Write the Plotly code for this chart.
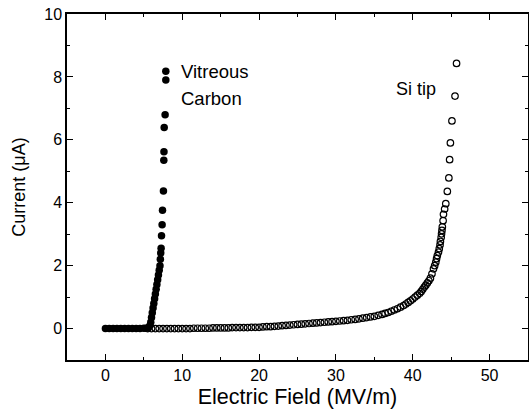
import plotly.graph_objects as go

# Vitreous Carbon (filled circles)
carbon_x = [0.0, 0.5, 1.0, 1.5, 2.0, 2.5, 3.0, 3.5, 4.0, 4.5, 5.0, 5.3, 5.6,
            5.8, 5.9, 6.0, 6.1, 6.2, 6.3, 6.4, 6.5, 6.6, 6.7, 6.8, 6.9, 7.0, 7.1,
            7.15, 7.2, 7.25, 7.3, 7.38, 7.43, 7.55, 7.6, 7.62, 7.65, 7.77, 7.86, 7.86]
carbon_y = [0.0, 0.0, 0.0, 0.0, 0.0, 0.0, 0.0, 0.0, 0.0, 0.0, 0.01, 0.01, 0.03,
            0.1, 0.2, 0.35, 0.5, 0.65, 0.8, 0.95, 1.1, 1.25, 1.4, 1.55, 1.7, 1.85, 2.0,
            2.2, 2.4, 2.55, 2.95, 3.3, 3.76, 4.37, 5.35, 5.62, 6.39, 6.8, 7.9, 8.18]

# Si tip (open circles)
si_x = [5.5, 6.0, 6.5, 7.0, 7.5, 8.0, 8.5, 9.0, 9.5, 10.0, 10.5, 11.0, 11.5, 12.0,
        12.5, 13.0, 13.5, 14.0, 14.5, 15.0, 15.5, 16.0, 16.5, 17.0, 17.5, 18.0, 18.5,
        19.0, 19.5, 20.0, 20.5, 21.0, 21.5, 22.0, 22.5, 23.0, 23.5, 24.0, 24.5, 25.0,
        25.5, 26.0, 26.5, 27.0, 27.5, 28.0, 28.5, 29.0, 29.5, 30.0, 30.5, 31.0, 31.5,
        32.0, 32.5, 33.0, 33.5, 34.0, 34.5, 35.0, 35.5, 36.0, 36.4, 36.8, 37.2, 37.6,
        38.0, 38.4, 38.8, 39.1, 39.4, 39.7, 40.0, 40.3, 40.6, 40.9, 41.1, 41.3, 41.5,
        41.7, 41.9, 42.1, 42.3, 42.5, 42.7, 42.85, 43.0, 43.1, 43.2, 43.35, 43.45,
        43.55, 43.6, 43.7, 43.75, 43.8, 43.85, 43.95, 44.0, 44.15, 44.3, 44.5, 44.7,
        44.8, 44.9, 45.1, 45.5, 45.7]
si_y = [0.0, 0.0, 0.0, 0.0, 0.0, 0.0, 0.0, 0.0, 0.0, 0.0, 0.0, 0.0, 0.01, 0.01,
        0.01, 0.01, 0.01, 0.02, 0.02, 0.02, 0.02, 0.02, 0.03, 0.03, 0.03, 0.03, 0.03,
        0.04, 0.04, 0.04, 0.05, 0.06, 0.06, 0.07, 0.08, 0.09, 0.1, 0.11, 0.12, 0.13,
        0.14, 0.15, 0.16, 0.17, 0.18, 0.19, 0.2, 0.21, 0.22, 0.23, 0.24, 0.25, 0.26,
        0.28, 0.29, 0.31, 0.33, 0.35, 0.37, 0.39, 0.42, 0.45, 0.48, 0.51, 0.55, 0.59,
        0.63, 0.68, 0.73, 0.78, 0.83, 0.88, 0.94, 1.0, 1.06, 1.12, 1.18, 1.25, 1.32,
        1.38, 1.45, 1.52, 1.6, 1.74, 1.9, 2.0, 2.11, 2.22, 2.32, 2.43, 2.54,
        2.66, 2.77, 2.9, 3.01, 3.12, 3.23, 3.43, 3.63, 3.8, 3.97, 4.36, 4.79,
        5.37, 5.9, 6.6, 7.39, 8.43]

x_ticks = [0, 10, 20, 30, 40, 50]
y_ticks = [0, 2, 4, 6, 8, 10]

font_family = "Liberation Sans, Arial, sans-serif"

fig = go.Figure()
fig.add_trace(go.Scatter(
    x=si_x, y=si_y, mode="markers",
    marker=dict(symbol="circle-open", size=6.5, color="black", line=dict(width=1.2, color="black")),
    showlegend=False,
))
fig.add_trace(go.Scatter(
    x=carbon_x, y=carbon_y, mode="markers",
    marker=dict(symbol="circle", size=7.5, color="black"),
    showlegend=False,
))

fig.add_annotation(x=9.6, y=8.18, text="Vitreous", showarrow=False, xanchor="left",
                   yanchor="middle", font=dict(size=18.5, color="black", family=font_family))
fig.add_annotation(x=9.6, y=7.3, text="Carbon", showarrow=False, xanchor="left",
                   yanchor="middle", font=dict(size=18.5, color="black", family=font_family))
fig.add_annotation(x=37.6, y=7.6, text="Si tip", showarrow=False, xanchor="left",
                   yanchor="middle", font=dict(size=18, color="black", family=font_family))

axis_common = dict(
    showline=True, linecolor="black", linewidth=1.5, mirror="ticks",
    ticks="inside", ticklen=6, tickwidth=1.3, tickcolor="black",
    showgrid=False, zeroline=False, automargin=False,
    tickfont=dict(size=16, color="black", family=font_family),
)

fig.update_xaxes(
    range=[-5, 55], tickvals=x_ticks, ticktext=[str(v) for v in x_ticks],
    minor=dict(dtick=5, tick0=0, ticks="inside", ticklen=3, tickwidth=1, tickcolor="black"),
    title=dict(text="Electric Field (MV/m)", font=dict(size=21.5, color="black", family=font_family), standoff=6),
    **axis_common,
)
fig.update_yaxes(
    range=[-1, 10], tickvals=y_ticks, ticktext=[str(v) for v in y_ticks],
    minor=dict(dtick=1, tick0=0, ticks="inside", ticklen=3, tickwidth=1, tickcolor="black"),
    title=dict(text="Current (μA)", font=dict(size=18, color="black", family=font_family), standoff=14),
    **axis_common,
)

fig.update_layout(
    width=529, height=420,
    margin=dict(l=67, r=1, t=14, b=60),
    paper_bgcolor="white", plot_bgcolor="white",
)

fig.write_html(
    "out.html",
    config={"displayModeBar": False},
    post_script="document.body.style.margin='0';document.body.style.overflow='hidden';",
)
